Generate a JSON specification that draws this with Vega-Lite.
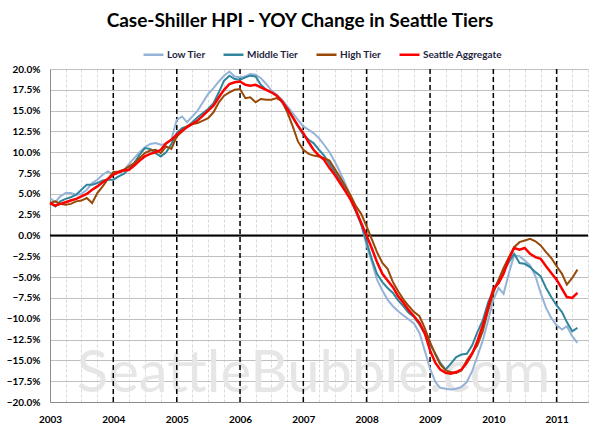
{
"$schema": "https://vega.github.io/schema/vega-lite/v6.json",
"width": 538, "height": 333,
"autosize": {"type": "none"},
"padding": {"left": 50, "top": 69, "right": 12, "bottom": 34},
"background": "white",
"config": {"view": {"stroke": null}, "font": "Lato"},
"title": {"text": "Case-Shiller HPI - YOY Change in Seattle Tiers", "font": "Lato", "fontSize": 19, "fontWeight": "bold", "color": "#000000", "anchor": "middle", "frame": "group", "dx": -19, "offset": 12},
"data": {"values": [
{"date":"2003-01-01","L":4.5,"M":3.9,"H":3.9,"A":3.9},
{"date":"2003-02-01","L":4.0,"M":3.5,"H":4.1,"A":3.6},
{"date":"2003-03-01","L":4.7,"M":4.1,"H":3.8,"A":3.8},
{"date":"2003-04-01","L":5.1,"M":4.4,"H":3.7,"A":4.0},
{"date":"2003-05-01","L":5.1,"M":4.6,"H":3.8,"A":4.2},
{"date":"2003-06-01","L":4.9,"M":4.9,"H":4.1,"A":4.4},
{"date":"2003-07-01","L":5.0,"M":5.5,"H":4.2,"A":4.7},
{"date":"2003-08-01","L":5.5,"M":6.1,"H":4.5,"A":5.0},
{"date":"2003-09-01","L":6.3,"M":6.1,"H":3.9,"A":5.5},
{"date":"2003-10-01","L":6.7,"M":6.3,"H":5.1,"A":5.9},
{"date":"2003-11-01","L":7.3,"M":6.6,"H":5.9,"A":6.4},
{"date":"2003-12-01","L":7.7,"M":6.7,"H":6.8,"A":6.8},
{"date":"2004-01-01","L":7.3,"M":6.7,"H":7.6,"A":7.3},
{"date":"2004-02-01","L":7.5,"M":7.1,"H":7.7,"A":7.6},
{"date":"2004-03-01","L":7.8,"M":7.4,"H":7.9,"A":7.8},
{"date":"2004-04-01","L":8.6,"M":8.0,"H":8.3,"A":7.9},
{"date":"2004-05-01","L":9.3,"M":8.7,"H":8.7,"A":8.4},
{"date":"2004-06-01","L":10.0,"M":9.7,"H":9.3,"A":9.0},
{"date":"2004-07-01","L":10.6,"M":10.5,"H":9.9,"A":9.5},
{"date":"2004-08-01","L":11.0,"M":10.4,"H":10.2,"A":9.8},
{"date":"2004-09-01","L":11.1,"M":9.9,"H":10.3,"A":10.0},
{"date":"2004-10-01","L":10.9,"M":9.5,"H":9.9,"A":10.3},
{"date":"2004-11-01","L":11.0,"M":10.0,"H":10.7,"A":11.1},
{"date":"2004-12-01","L":11.5,"M":11.0,"H":10.4,"A":11.5},
{"date":"2005-01-01","L":13.9,"M":12.3,"H":11.9,"A":12.1},
{"date":"2005-02-01","L":14.3,"M":12.9,"H":12.5,"A":12.6},
{"date":"2005-03-01","L":13.6,"M":13.1,"H":13.1,"A":13.0},
{"date":"2005-04-01","L":14.3,"M":13.6,"H":13.4,"A":13.4},
{"date":"2005-05-01","L":15.0,"M":14.2,"H":13.5,"A":13.8},
{"date":"2005-06-01","L":16.0,"M":14.7,"H":13.8,"A":14.4},
{"date":"2005-07-01","L":17.0,"M":15.2,"H":14.1,"A":15.0},
{"date":"2005-08-01","L":17.7,"M":15.9,"H":14.8,"A":15.6},
{"date":"2005-09-01","L":18.5,"M":17.2,"H":16.0,"A":16.6},
{"date":"2005-10-01","L":19.2,"M":18.6,"H":16.8,"A":17.5},
{"date":"2005-11-01","L":19.7,"M":19.2,"H":17.2,"A":18.2},
{"date":"2005-12-01","L":19.1,"M":18.8,"H":17.5,"A":18.4},
{"date":"2006-01-01","L":19.0,"M":18.7,"H":17.6,"A":18.5},
{"date":"2006-02-01","L":19.1,"M":19.0,"H":16.5,"A":18.1},
{"date":"2006-03-01","L":19.4,"M":19.2,"H":16.6,"A":18.0},
{"date":"2006-04-01","L":19.3,"M":19.1,"H":16.0,"A":18.1},
{"date":"2006-05-01","L":18.9,"M":18.1,"H":16.4,"A":17.8},
{"date":"2006-06-01","L":18.2,"M":17.5,"H":16.3,"A":17.5},
{"date":"2006-07-01","L":17.4,"M":17.2,"H":16.3,"A":17.2},
{"date":"2006-08-01","L":16.9,"M":16.8,"H":16.5,"A":16.8},
{"date":"2006-09-01","L":16.3,"M":16.0,"H":16.1,"A":16.1},
{"date":"2006-10-01","L":15.5,"M":15.3,"H":14.8,"A":15.2},
{"date":"2006-11-01","L":14.7,"M":14.2,"H":13.1,"A":14.2},
{"date":"2006-12-01","L":13.9,"M":13.1,"H":11.3,"A":13.2},
{"date":"2007-01-01","L":13.1,"M":12.1,"H":10.3,"A":12.3},
{"date":"2007-02-01","L":12.7,"M":11.5,"H":9.8,"A":11.2},
{"date":"2007-03-01","L":12.3,"M":11.1,"H":9.6,"A":10.3},
{"date":"2007-04-01","L":11.7,"M":10.3,"H":9.5,"A":9.6},
{"date":"2007-05-01","L":10.9,"M":9.6,"H":9.3,"A":9.1},
{"date":"2007-06-01","L":10.0,"M":8.6,"H":9.0,"A":8.1},
{"date":"2007-07-01","L":8.9,"M":7.6,"H":8.0,"A":7.3},
{"date":"2007-08-01","L":7.6,"M":6.6,"H":7.0,"A":6.3},
{"date":"2007-09-01","L":6.2,"M":5.5,"H":5.9,"A":5.3},
{"date":"2007-10-01","L":4.7,"M":4.3,"H":4.8,"A":4.3},
{"date":"2007-11-01","L":3.1,"M":2.8,"H":3.5,"A":3.0},
{"date":"2007-12-01","L":1.4,"M":1.3,"H":2.6,"A":1.5},
{"date":"2008-01-01","L":-1.2,"M":-0.8,"H":1.1,"A":0.0},
{"date":"2008-02-01","L":-3.2,"M":-2.9,"H":-0.5,"A":-1.6},
{"date":"2008-03-01","L":-5.3,"M":-4.6,"H":-2.0,"A":-3.2},
{"date":"2008-04-01","L":-6.6,"M":-5.6,"H":-3.3,"A":-4.6},
{"date":"2008-05-01","L":-7.7,"M":-6.3,"H":-4.0,"A":-5.4},
{"date":"2008-06-01","L":-8.5,"M":-6.9,"H":-5.6,"A":-6.2},
{"date":"2008-07-01","L":-9.1,"M":-7.8,"H":-6.7,"A":-7.3},
{"date":"2008-08-01","L":-9.6,"M":-8.5,"H":-7.7,"A":-8.1},
{"date":"2008-09-01","L":-10.1,"M":-9.3,"H":-8.5,"A":-9.0},
{"date":"2008-10-01","L":-10.6,"M":-9.8,"H":-9.2,"A":-9.7},
{"date":"2008-11-01","L":-11.7,"M":-10.7,"H":-9.7,"A":-10.5},
{"date":"2008-12-01","L":-13.8,"M":-11.8,"H":-11.1,"A":-11.7},
{"date":"2009-01-01","L":-16.0,"M":-13.1,"H":-12.8,"A":-13.8},
{"date":"2009-02-01","L":-17.6,"M":-14.2,"H":-14.3,"A":-15.3},
{"date":"2009-03-01","L":-18.3,"M":-15.3,"H":-15.5,"A":-16.1},
{"date":"2009-04-01","L":-18.4,"M":-16.1,"H":-16.2,"A":-16.5},
{"date":"2009-05-01","L":-18.5,"M":-15.4,"H":-16.4,"A":-16.6},
{"date":"2009-06-01","L":-18.4,"M":-14.6,"H":-16.5,"A":-16.4},
{"date":"2009-07-01","L":-18.2,"M":-14.3,"H":-16.2,"A":-16.1},
{"date":"2009-08-01","L":-17.6,"M":-14.2,"H":-15.0,"A":-15.3},
{"date":"2009-09-01","L":-16.3,"M":-13.2,"H":-14.1,"A":-14.2},
{"date":"2009-10-01","L":-14.5,"M":-11.6,"H":-13.2,"A":-12.7},
{"date":"2009-11-01","L":-12.6,"M":-10.2,"H":-11.5,"A":-10.8},
{"date":"2009-12-01","L":-10.3,"M":-8.1,"H":-9.1,"A":-8.7},
{"date":"2010-01-01","L":-7.7,"M":-6.6,"H":-6.9,"A":-6.4},
{"date":"2010-02-01","L":-6.3,"M":-5.3,"H":-5.3,"A":-5.7},
{"date":"2010-03-01","L":-7.0,"M":-4.2,"H":-3.9,"A":-4.6},
{"date":"2010-04-01","L":-4.5,"M":-3.2,"H":-2.6,"A":-2.8},
{"date":"2010-05-01","L":-2.4,"M":-2.2,"H":-1.4,"A":-1.5},
{"date":"2010-06-01","L":-2.5,"M":-3.3,"H":-0.8,"A":-1.7},
{"date":"2010-07-01","L":-3.0,"M":-3.4,"H":-0.6,"A":-1.5},
{"date":"2010-08-01","L":-3.6,"M":-3.8,"H":-0.4,"A":-2.2},
{"date":"2010-09-01","L":-4.9,"M":-4.4,"H":-0.7,"A":-2.6},
{"date":"2010-10-01","L":-6.9,"M":-4.9,"H":-1.2,"A":-2.8},
{"date":"2010-11-01","L":-8.7,"M":-6.3,"H":-2.0,"A":-3.7},
{"date":"2010-12-01","L":-9.9,"M":-7.4,"H":-2.7,"A":-4.5},
{"date":"2011-01-01","L":-10.8,"M":-8.4,"H":-3.7,"A":-5.3},
{"date":"2011-02-01","L":-11.3,"M":-9.2,"H":-4.6,"A":-6.4},
{"date":"2011-03-01","L":-10.9,"M":-10.4,"H":-5.9,"A":-7.4},
{"date":"2011-04-01","L":-12.1,"M":-11.5,"H":-5.1,"A":-7.5},
{"date":"2011-05-01","L":-12.9,"M":-11.1,"H":-4.1,"A":-6.9}
]},
"layer": [
{
 "data": {"values": [{"t": "SeattleBubble.com"}]},
 "mark": {"type": "text", "font": "Lato", "fontSize": 58, "color": "#e6e6e6", "align": "center", "baseline": "middle"},
 "encoding": {
  "text": {"field": "t"},
  "x": {"datum": {"year": 2007, "month": 3, "date": 1, "utc": true}, "type": "temporal",
   "scale": {"type": "utc", "domain": [{"year": 2003, "month": 1, "date": 1, "utc": true}, {"year": 2011, "month": 7, "date": 1, "utc": true}]},
   "axis": {"title": null, "tickCount": {"interval": "month", "step": 3}, "grid": true, "gridColor": "#d9d9d9", "gridDash": [3, 2], "ticks": false, "domain": true, "domainColor": "#8c8c8c", "labelExpr": "utcFormat(datum.value,'%m')=='01' ? utcFormat(datum.value,'%Y') : ''", "labelFont": "Lato", "labelFontSize": 10, "labelFontWeight": "bold", "labelColor": "#000000", "labelPadding": 12, "labelOverlap": false, "labelFlush": false, "labelDx": 3}},
  "y": {"datum": -16.7, "type": "quantitative",
   "scale": {"domain": [-20, 20], "nice": false},
   "axis": {"title": null, "values": [-20, -17.5, -15, -12.5, -10, -7.5, -5, -2.5, 0, 2.5, 5, 7.5, 10, 12.5, 15, 17.5, 20], "grid": true, "gridColor": "#c0c0c0", "ticks": false, "domain": true, "domainColor": "#8c8c8c", "labelExpr": "format(datum.value,'.1f')+'%'", "labelFont": "Lato", "labelFontSize": 10, "labelFontWeight": "bold", "labelColor": "#000000", "labelPadding": 10}}
 }
},
{
 "data": {"values": [{"yr": "2004-01-01"}, {"yr": "2005-01-01"}, {"yr": "2006-01-01"}, {"yr": "2007-01-01"}, {"yr": "2008-01-01"}, {"yr": "2009-01-01"}, {"yr": "2010-01-01"}, {"yr": "2011-01-01"}]},
 "mark": {"type": "rule", "color": "#000000", "strokeWidth": 1.5, "strokeDash": [5, 3]},
 "encoding": {
  "x": {"field": "yr", "type": "temporal",
   "scale": {"type": "utc", "domain": [{"year": 2003, "month": 1, "date": 1, "utc": true}, {"year": 2011, "month": 7, "date": 1, "utc": true}]},
   "axis": {"title": null, "tickCount": {"interval": "month", "step": 3}, "grid": true, "gridColor": "#d9d9d9", "gridDash": [3, 2], "ticks": false, "domain": true, "domainColor": "#8c8c8c", "labelExpr": "utcFormat(datum.value,'%m')=='01' ? utcFormat(datum.value,'%Y') : ''", "labelFont": "Lato", "labelFontSize": 10, "labelFontWeight": "bold", "labelColor": "#000000", "labelPadding": 12, "labelOverlap": false, "labelFlush": false, "labelDx": 3}}
 }
},
{
 "data": {"values": [{}]},
 "mark": {"type": "rule", "color": "#000000", "strokeWidth": 2},
 "encoding": {
  "y": {"datum": 0, "type": "quantitative",
   "scale": {"domain": [-20, 20], "nice": false},
   "axis": {"title": null, "values": [-20, -17.5, -15, -12.5, -10, -7.5, -5, -2.5, 0, 2.5, 5, 7.5, 10, 12.5, 15, 17.5, 20], "grid": true, "gridColor": "#c0c0c0", "ticks": false, "domain": true, "domainColor": "#8c8c8c", "labelExpr": "format(datum.value,'.1f')+'%'", "labelFont": "Lato", "labelFontSize": 10, "labelFontWeight": "bold", "labelColor": "#000000", "labelPadding": 10}}
 }
},
{
 "transform": [{"fold": ["L", "M", "H", "A"], "as": ["k", "v"]}, {"filter": "datum.k != 'A'"}],
 "mark": {"type": "line", "strokeWidth": 2},
 "encoding": {
  "x": {"field": "date", "type": "temporal",
   "scale": {"type": "utc", "domain": [{"year": 2003, "month": 1, "date": 1, "utc": true}, {"year": 2011, "month": 7, "date": 1, "utc": true}]},
   "axis": {"title": null, "tickCount": {"interval": "month", "step": 3}, "grid": true, "gridColor": "#d9d9d9", "gridDash": [3, 2], "ticks": false, "domain": true, "domainColor": "#8c8c8c", "labelExpr": "utcFormat(datum.value,'%m')=='01' ? utcFormat(datum.value,'%Y') : ''", "labelFont": "Lato", "labelFontSize": 10, "labelFontWeight": "bold", "labelColor": "#000000", "labelPadding": 12, "labelOverlap": false, "labelFlush": false, "labelDx": 3}},
  "y": {"field": "v", "type": "quantitative",
   "scale": {"domain": [-20, 20], "nice": false},
   "axis": {"title": null, "values": [-20, -17.5, -15, -12.5, -10, -7.5, -5, -2.5, 0, 2.5, 5, 7.5, 10, 12.5, 15, 17.5, 20], "grid": true, "gridColor": "#c0c0c0", "ticks": false, "domain": true, "domainColor": "#8c8c8c", "labelExpr": "format(datum.value,'.1f')+'%'", "labelFont": "Lato", "labelFontSize": 10, "labelFontWeight": "bold", "labelColor": "#000000", "labelPadding": 10}},
  "color": {"field": "k", "type": "nominal",
   "scale": {"domain": ["L", "M", "H", "A"], "range": ["#95B3D7", "#31859C", "#984807", "#FF0000"]},
   "legend": {"orient": "none", "legendX": 92, "legendY": -26, "direction": "horizontal", "title": null, "symbolType": "stroke", "symbolSize": 400, "symbolStrokeWidth": 2.5, "labelFont": "Lato", "labelFontSize": 10, "labelFontWeight": "bold", "labelColor": "#1f1f3f", "columnPadding": 12, "labelOffset": 2, "labelExpr": "datum.label=='L' ? 'Low Tier' : datum.label=='M' ? 'Middle Tier' : datum.label=='H' ? 'High Tier' : 'Seattle Aggregate'"}}
 }
},
{
 "transform": [{"fold": ["L", "M", "H", "A"], "as": ["k", "v"]}, {"filter": "datum.k == 'A'"}],
 "mark": {"type": "line", "strokeWidth": 2.5},
 "encoding": {
  "x": {"field": "date", "type": "temporal",
   "scale": {"type": "utc", "domain": [{"year": 2003, "month": 1, "date": 1, "utc": true}, {"year": 2011, "month": 7, "date": 1, "utc": true}]},
   "axis": {"title": null, "tickCount": {"interval": "month", "step": 3}, "grid": true, "gridColor": "#d9d9d9", "gridDash": [3, 2], "ticks": false, "domain": true, "domainColor": "#8c8c8c", "labelExpr": "utcFormat(datum.value,'%m')=='01' ? utcFormat(datum.value,'%Y') : ''", "labelFont": "Lato", "labelFontSize": 10, "labelFontWeight": "bold", "labelColor": "#000000", "labelPadding": 12, "labelOverlap": false, "labelFlush": false, "labelDx": 3}},
  "y": {"field": "v", "type": "quantitative",
   "scale": {"domain": [-20, 20], "nice": false},
   "axis": {"title": null, "values": [-20, -17.5, -15, -12.5, -10, -7.5, -5, -2.5, 0, 2.5, 5, 7.5, 10, 12.5, 15, 17.5, 20], "grid": true, "gridColor": "#c0c0c0", "ticks": false, "domain": true, "domainColor": "#8c8c8c", "labelExpr": "format(datum.value,'.1f')+'%'", "labelFont": "Lato", "labelFontSize": 10, "labelFontWeight": "bold", "labelColor": "#000000", "labelPadding": 10}},
  "color": {"field": "k", "type": "nominal",
   "scale": {"domain": ["L", "M", "H", "A"], "range": ["#95B3D7", "#31859C", "#984807", "#FF0000"]},
   "legend": {"orient": "none", "legendX": 92, "legendY": -26, "direction": "horizontal", "title": null, "symbolType": "stroke", "symbolSize": 400, "symbolStrokeWidth": 2.5, "labelFont": "Lato", "labelFontSize": 10, "labelFontWeight": "bold", "labelColor": "#1f1f3f", "columnPadding": 12, "labelOffset": 2, "labelExpr": "datum.label=='L' ? 'Low Tier' : datum.label=='M' ? 'Middle Tier' : datum.label=='H' ? 'High Tier' : 'Seattle Aggregate'"}}
 }
}
]
}
